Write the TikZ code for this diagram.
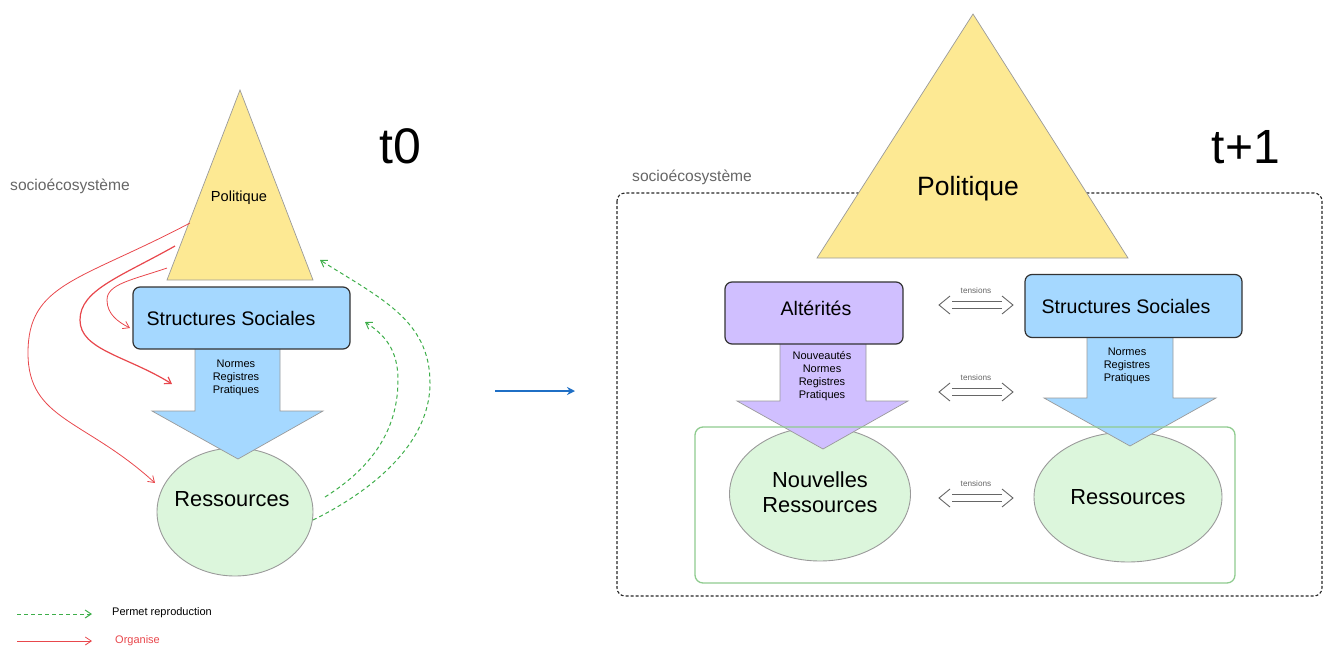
\documentclass[tikz,border=0pt]{standalone}
\usepackage{fontspec}
\setmainfont{Liberation Sans}
\usetikzlibrary{arrows.meta,shapes.geometric}
\definecolor{triY}{HTML}{FDE993}
\definecolor{boxB}{HTML}{A5D8FF}
\definecolor{boxP}{HTML}{D0BFFF}
\definecolor{ellG}{HTML}{DCF6DC}
\definecolor{rectG}{HTML}{8FCB8F}
\definecolor{redA}{HTML}{E8474C}
\definecolor{greenA}{HTML}{3EAE4A}
\definecolor{blueA}{HTML}{1F6FC5}
\definecolor{txtG}{HTML}{666666}
\definecolor{edgeG}{HTML}{9A9A9A}
\tikzset{
  tri/.style={fill=triY, draw=edgeG, line width=0.7pt},
  blockarrow/.style={draw=edgeG, line width=0.7pt},
  rbox/.style={rectangle, rounded corners=7pt, draw=black!80, line width=1.2pt, inner sep=0pt},
  ell/.style={ellipse, fill=ellG, draw=edgeG, line width=0.9pt, inner sep=0pt},
  redc/.style={draw=redA, line width=0.8pt, -{Straight Barb[length=6pt,width=8pt]}},
  greenc/.style={draw=greenA, line width=1pt, dash pattern=on 4pt off 3pt, -{Straight Barb[length=6pt,width=8pt]}},
  small/.style={font=\fontsize{11}{12.7}\selectfont, align=center, inner sep=0pt},
  midf/.style={font=\fontsize{19.6}{23}\selectfont, inner sep=0pt},
  bigf/.style={font=\fontsize{21.8}{25}\selectfont, align=center, inner sep=0pt},
  gtxt/.style={font=\fontsize{15.6}{18}\selectfont, text=txtG, anchor=west, inner sep=0pt},
  tlabel/.style={font=\fontsize{8.2}{10}\selectfont, text=txtG, inner sep=0pt},
  tg/.style={draw=txtG, line width=0.9pt},
  tens/.pic={
    \draw[tg] (-26,-9) -- (-37,0) -- (-26,9);
    \draw[tg] (26,-9) -- (37,0) -- (26,9);
    \draw[tg] (-24,-3.5) -- (26,-3.5);
    \draw[tg] (-24,3.5) -- (26,3.5);
    \node[tlabel] (lab) at (0,-14) {tensions};
  }
}
\begin{document}
\begin{tikzpicture}[x=1pt,y=-1pt]
\useasboundingbox (0,0) rectangle (1326,646);

% ================= LEFT (t0) =================
\node[gtxt] (soc1) at (10,186) {socioécosystème};
\node[font=\fontsize{50}{55}\selectfont, anchor=base, inner sep=0pt] (t0) at (400,163) {t0};

\coordinate (tA) at (240,90);
\coordinate (tL) at (167,280);
\coordinate (tR) at (313,280);
\draw[tri] (tA) -- (tL) -- (tR) -- cycle;
\node[font=\fontsize{14.6}{17}\selectfont, inner sep=0pt] (pol1) at (239,198) {Politique};

\node[ell, minimum width=156pt, minimum height=128pt] (res1) at (235,512) {};
\node[bigf] (res1t) at (232,499) {Ressources};

\fill[boxB] (195,347) -- (195,411) -- (152,411) -- (238,459) -- (323,411) -- (280,411) -- (280,347) -- cycle;
\draw[blockarrow] (195,347) -- (195,411) -- (152,411) -- (238,459) -- (323,411) -- (280,411) -- (280,347);
\node[small] (nrp1) at (236,378) {Normes\\Registres\\Pratiques};

\node[rbox, fill=boxB, minimum width=217pt, minimum height=62pt] (ss1) at (241.5,318) {};
\node[midf] (ss1t) at (231,318) {Structures Sociales};

% red connectors
\coordinate (r1s) at (190,223); \coordinate (r1m) at (28,353); \coordinate (r1e) at (155,483);
\coordinate (r2s) at (175,246); \coordinate (r2m) at (80,320); \coordinate (r2e) at (172,384);
\coordinate (r3s) at (167,268); \coordinate (r3m) at (107,300); \coordinate (r3e) at (130,328);
\draw[redc] (r1s) .. controls (80,281) and (28,283) .. (r1m) .. controls (28,420) and (85,419) .. (r1e);
\draw[redc, line width=1.2pt] (r2s) .. controls (120,277) and (80,290) .. (r2m) .. controls (80,350) and (127,356) .. (r2e);
\draw[redc] (r3s) .. controls (132,280) and (107,284) .. (r3m) .. controls (107,314) and (118,322) .. (r3e);

% green connectors
\coordinate (g1s) at (313,520); \coordinate (g1m) at (430,383); \coordinate (g1e) at (320,260);
\coordinate (g2s) at (325,497); \coordinate (g2m) at (398,380); \coordinate (g2e) at (365,322);
\draw[greenc] (g1s) .. controls (360,497) and (430,450) .. (g1m) .. controls (430,320) and (380,298) .. (g1e);
\draw[greenc] (g2s) .. controls (360,475) and (398,440) .. (g2m) .. controls (398,350) and (385,335) .. (g2e);

% legend
\coordinate (lg1a) at (17,614); \coordinate (lg1b) at (92,614);
\coordinate (lg2a) at (17,641); \coordinate (lg2b) at (92,641);
\draw[greenc] (lg1a) -- (lg1b);
\draw[redc] (lg2a) -- (lg2b);
\node[font=\fontsize{11}{13}\selectfont, anchor=west, inner sep=0pt] (lgt1) at (112,613) {Permet reproduction};
\node[font=\fontsize{11}{13}\selectfont, anchor=west, inner sep=0pt, text=redA] (lgt2) at (115,641) {Organise};

% middle arrow
\coordinate (ma) at (495,391); \coordinate (mb) at (575,391);
\draw[draw=blueA, line width=1.8pt, -{Stealth[length=8pt,width=8pt]}] (ma) -- (mb);

% ================= RIGHT (t+1) =================
\node[gtxt] (soc2) at (632,177) {socioécosystème};
\node[font=\fontsize{48}{55}\selectfont, anchor=base, inner sep=0pt] (t1) at (1246,163) {t+1};
\draw[draw=black!85, line width=1.1pt, dash pattern=on 3pt off 2pt, rounded corners=8pt] (617,193) rectangle (1322,596);

\coordinate (TA) at (973,14);
\coordinate (TL) at (817,258);
\coordinate (TR) at (1128,258);
\draw[tri] (TA) -- (TL) -- (TR) -- cycle;
\node[font=\fontsize{26.5}{30}\selectfont, inner sep=0pt] (pol2) at (968,189) {Politique};

% ellipses
\node[ell, minimum width=181pt, minimum height=134pt] (nres) at (820,494) {};
\node[bigf] (nrest) at (820,492) {Nouvelles\\Ressources};
\node[ell, minimum width=188pt, minimum height=130pt] (res2) at (1128,497) {};
\node[bigf] (res2t) at (1128,497) {Ressources};

% purple block arrow
\fill[boxP] (780,342) -- (780,401) -- (737,401) -- (823,449) -- (908,401) -- (866,401) -- (866,342) -- cycle;
\draw[blockarrow] (780,342) -- (780,401) -- (737,401) -- (823,449) -- (908,401) -- (866,401) -- (866,342);
\node[small, font=\fontsize{11}{12.9}\selectfont] (nnrp) at (822,376) {Nouveautés\\Normes\\Registres\\Pratiques};

% blue block arrow right
\fill[boxB] (1087,336) -- (1087,398) -- (1044,398) -- (1130,446) -- (1216,398) -- (1173,398) -- (1173,336) -- cycle;
\draw[blockarrow] (1087,336) -- (1087,398) -- (1044,398) -- (1130,446) -- (1216,398) -- (1173,398) -- (1173,336);
\node[small] (nrp2) at (1127,366) {Normes\\Registres\\Pratiques};

% boxes
\node[rbox, fill=boxP, minimum width=178pt, minimum height=62pt] (alt) at (814,313) {};
\node[midf] (altt) at (816,308) {Altérités};
\node[rbox, fill=boxB, minimum width=217pt, minimum height=63pt] (ss2) at (1133.5,306) {};
\node[midf] (ss2t) at (1126,306) {Structures Sociales};

% green rect
\draw[draw=rectG, line width=1.3pt, rounded corners=8pt] (695,427) rectangle (1235,583);

% tensions
\pic (ta) at (976,305) {tens};
\pic (tb) at (976,392) {tens};
\pic (tc) at (976,498) {tens};
\end{tikzpicture}
\end{document}
